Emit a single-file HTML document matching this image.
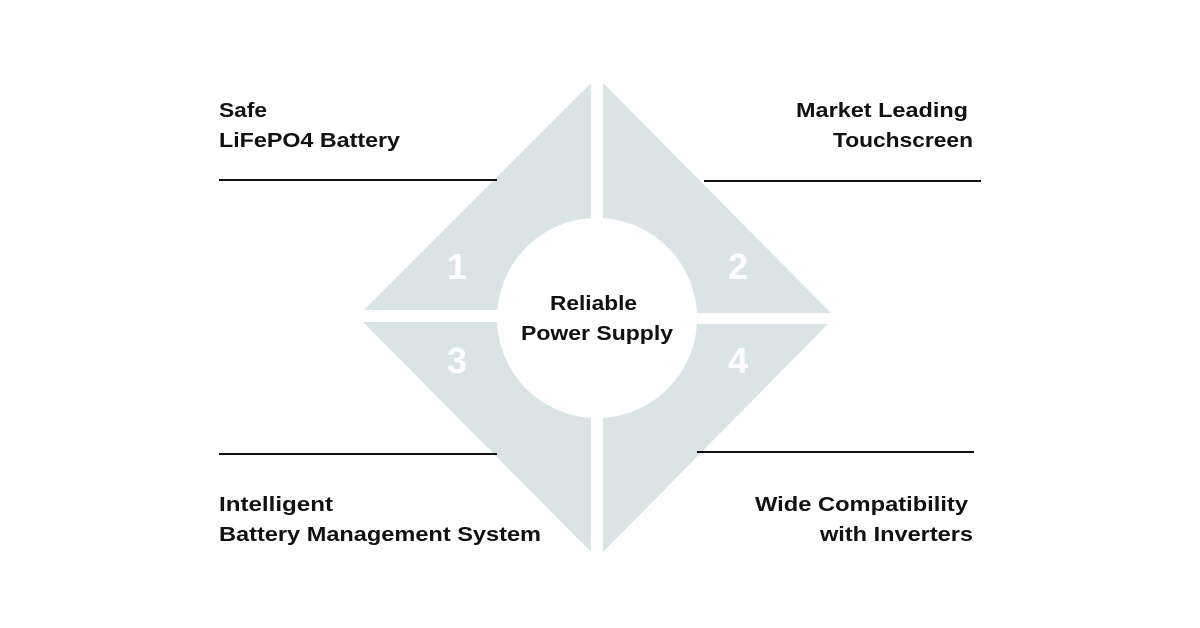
<!DOCTYPE html>
<html><head><meta charset="utf-8"><style>
html,body{margin:0;padding:0;background:#fff;}
svg{display:block}
text{font-family:"Liberation Sans",sans-serif;font-weight:bold;}
</style></head><body>
<svg width="1200" height="628" viewBox="0 0 1200 628" xmlns="http://www.w3.org/2000/svg">
<rect width="1200" height="628" fill="#fff"/>
<g fill="#dbe4e5">
<polygon points="591,83 591,310 364,310"/>
<polygon points="603,83 603,313 831,313"/>
<polygon points="363,322 591,322 591,552"/>
<polygon points="603,324 828,324 603,552"/>
</g>
<circle cx="597" cy="318" r="100" fill="#fff"/>
<g stroke="#111" stroke-width="2">
<line x1="219" y1="180" x2="497" y2="180"/>
<line x1="704" y1="181" x2="981" y2="181"/>
<line x1="219" y1="454" x2="497" y2="454"/>
<line x1="697" y1="452" x2="974" y2="452"/>
</g>
<g fill="#fff" font-size="36" text-anchor="middle">
<text x="457" y="279">1</text>
<text x="738" y="279">2</text>
<text x="457" y="373">3</text>
<text x="738" y="373">4</text>
</g>
<g fill="#111" font-size="20" lengthAdjust="spacingAndGlyphs">
<text x="219" y="117" textLength="48" lengthAdjust="spacingAndGlyphs">Safe</text>
<text x="219" y="147" textLength="181" lengthAdjust="spacingAndGlyphs">LiFePO4 Battery</text>
<text x="796" y="117" textLength="172" lengthAdjust="spacingAndGlyphs">Market Leading</text>
<text x="833" y="147" textLength="140" lengthAdjust="spacingAndGlyphs">Touchscreen</text>
<text x="219" y="511" textLength="114" lengthAdjust="spacingAndGlyphs">Intelligent</text>
<text x="219" y="541" textLength="322" lengthAdjust="spacingAndGlyphs">Battery Management System</text>
<text x="755" y="511" textLength="213" lengthAdjust="spacingAndGlyphs">Wide Compatibility</text>
<text x="820" y="541" textLength="153" lengthAdjust="spacingAndGlyphs">with Inverters</text>
<text x="550" y="310" textLength="87" lengthAdjust="spacingAndGlyphs">Reliable</text>
<text x="521" y="340" textLength="152" lengthAdjust="spacingAndGlyphs">Power Supply</text>
</g>
</svg>
</body></html>
